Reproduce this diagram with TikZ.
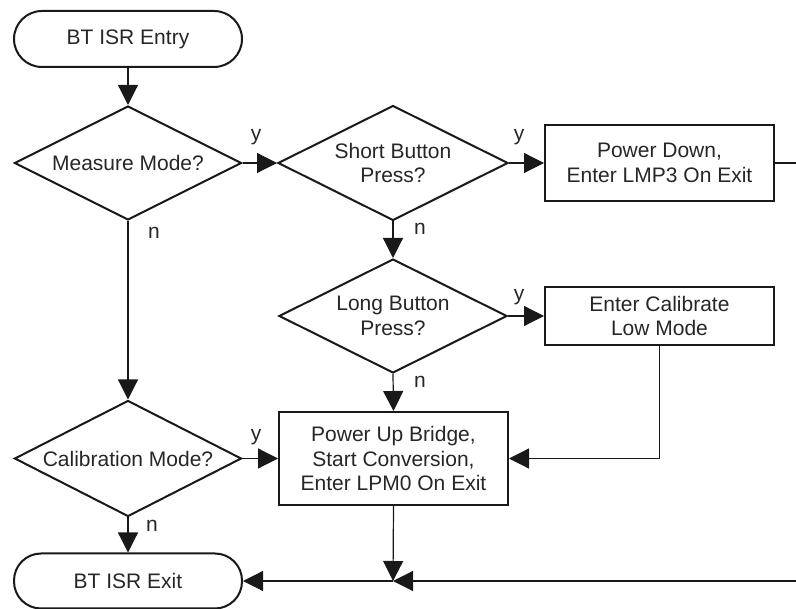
\documentclass[tikz,border=0pt]{standalone}
\usepackage{fontspec}
\setmainfont{Liberation Sans}
\usetikzlibrary{shapes.geometric,arrows.meta}
\begin{document}
\begin{tikzpicture}[x=1pt,y=-1pt,
  every node/.style={font=\fontsize{21}{24.5}\selectfont, text=black!85},
  shp/.style={draw=black!90, line width=2pt},
  term/.style={shp, rectangle, rounded corners=28pt, minimum width=228pt, minimum height=56pt, inner sep=0pt},
  dec/.style={shp, diamond, aspect=2, inner sep=0pt, align=center},
  proc/.style={shp, rectangle, align=center, inner sep=0pt, minimum width=229pt},
  conn/.style={draw=black!90, line width=1.2pt},
  arr/.style={conn, -{Triangle[length=20pt,width=20pt]}},
  lbl/.style={inner sep=0pt}
]
\useasboundingbox (0,0) rectangle (796,609);
\node[term] (entry) at (128,39) {BT ISR Entry};
\node[dec, minimum width=227pt, minimum height=114pt] (measure) at (128,163) {Measure Mode?};
\node[dec, minimum width=230pt, minimum height=115pt] (short) at (393,163) {Short Button\\Press?};
\node[proc, minimum height=76pt] (pd) at (659.5,163) {Power Down,\\Enter LMP3 On Exit};
\node[dec, minimum width=228pt, minimum height=114pt] (long) at (393,316) {Long Button\\Press?};
\node[proc, minimum height=58pt] (cal) at (659.5,316) {Enter Calibrate\\Low Mode};
\node[dec, minimum width=227pt, minimum height=116pt] (calib) at (128,458.5) {Calibration Mode?};
\node[proc, minimum height=93pt] (pu) at (393.5,458.5) {Power Up Bridge,\\Start Conversion,\\Enter LPM0 On Exit};
\node[term, minimum height=55pt, rounded corners=27pt] (exit) at (128,581) {BT ISR Exit};
\coordinate (r1) at (796,163);
\coordinate (r2) at (796,581);
\coordinate (j) at (393,581);

\draw[arr] (entry) -- (measure.north);
\draw[arr] (measure.east) -- (short.west);
\draw[arr] (short.east) -- (pd.west);
\draw[conn] (pd.east) -- (r1);
\draw[arr] (short.south) -- (long.north);
\draw[arr] (long.east) -- (cal.west);
\draw[arr] (long.south) -- (pu.north);
\draw[arr] (measure.south) -- (calib.north);
\draw[arr] (calib.east) -- (pu.west);
\draw[arr] (calib.south) -- (exit.north);
\draw[arr] (cal.south) |- (pu.east);
\draw[arr] (pu.south) -- (j);
\draw[arr] (r2) -- (j);
\draw[arr] (j) -- (exit.east);

\node[lbl] (y1) at (256,137) {y};
\node[lbl] (y2) at (519,137) {y};
\node[lbl] (y3) at (519,297) {y};
\node[lbl] (y4) at (256,437) {y};
\node[lbl] (n1) at (154,233) {n};
\node[lbl] (n2) at (420,229) {n};
\node[lbl] (n3) at (420,382) {n};
\node[lbl] (n4) at (152,526) {n};
\end{tikzpicture}
\end{document}
